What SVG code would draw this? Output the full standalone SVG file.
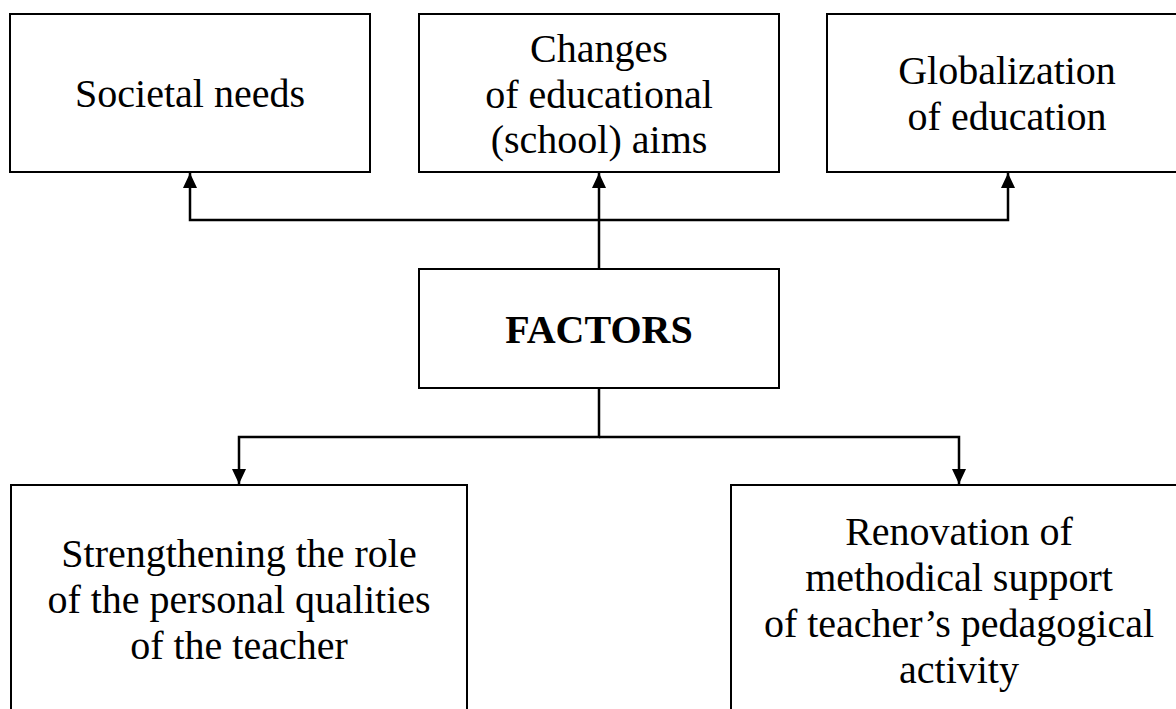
<svg xmlns="http://www.w3.org/2000/svg" width="1176" height="709" viewBox="0 0 1176 709">
<style>
.box{fill:#fff;stroke:#000;stroke-width:2}
.t{font-family:"Liberation Serif","Times New Roman",serif;font-size:40px;fill:#000;text-anchor:middle}
.b{font-weight:bold}
.c{fill:none;stroke:#000;stroke-width:2.5}
</style>
<defs>
<marker id="arr" markerUnits="userSpaceOnUse" markerWidth="16" markerHeight="15" refX="15" refY="7" orient="auto">
<path d="M0,0 L15,7 L0,14 Z" fill="#000"/>
</marker>
</defs>
<rect width="1176" height="709" fill="#fff"/>
<g id="connectors">
<path class="c" d="M599,269 V173" marker-end="url(#arr)"/>
<path class="c" d="M599,220 H190 V173" marker-end="url(#arr)"/>
<path class="c" d="M599,220 H1008 V173" marker-end="url(#arr)"/>
<path class="c" d="M599,388 V437 H239 V484" marker-end="url(#arr)"/>
<path class="c" d="M599,437 H959 V484" marker-end="url(#arr)"/>
</g>
<g id="societal">
<rect class="box" x="10" y="14" width="360" height="158"/>
<text class="t" x="190" y="107">Societal needs</text>
</g>
<g id="changes">
<rect class="box" x="419" y="14" width="360" height="158"/>
<text class="t" x="599" y="62">Changes</text>
<text class="t" x="599" y="107.5">of educational</text>
<text class="t" x="599" y="153">(school) aims</text>
</g>
<g id="globalization">
<rect class="box" x="827" y="14" width="360" height="158"/>
<text class="t" x="1007" y="84">Globalization</text>
<text class="t" x="1007" y="130">of education</text>
</g>
<g id="factors">
<rect class="box" x="419" y="269" width="360" height="119"/>
<text class="t b" x="599" y="343">FACTORS</text>
</g>
<g id="strengthening">
<rect class="box" x="11" y="485" width="456" height="240"/>
<text class="t" x="239" y="567">Strengthening the role</text>
<text class="t" x="239" y="613">of the personal qualities</text>
<text class="t" x="239" y="659">of the teacher</text>
</g>
<g id="renovation">
<rect class="box" x="731" y="485" width="456" height="240"/>
<text class="t" x="959" y="545">Renovation of</text>
<text class="t" x="959" y="591">methodical support</text>
<text class="t" x="959" y="637">of teacher’s pedagogical</text>
<text class="t" x="959" y="683">activity</text>
</g>
</svg>
